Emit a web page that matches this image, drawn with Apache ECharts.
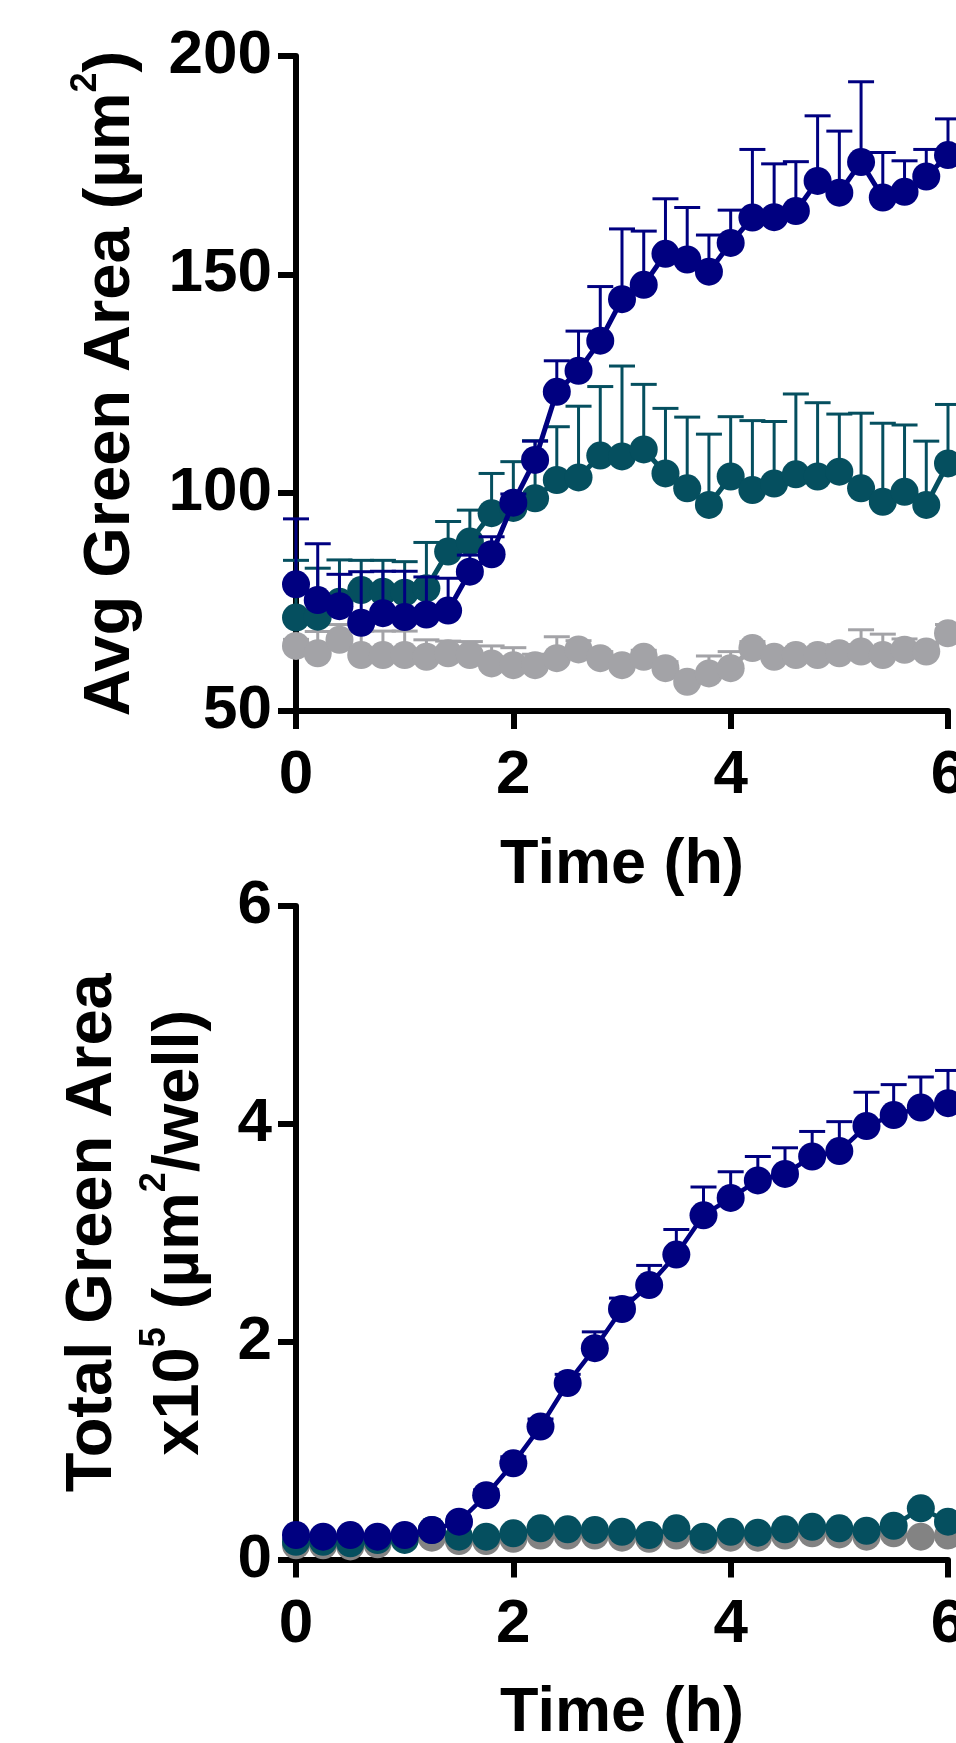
<!DOCTYPE html>
<html><head><meta charset="utf-8">
<script src="https://cdn.jsdelivr.net/npm/echarts@6/dist/echarts.min.js"></script>
<style>html,body{margin:0;padding:0;background:#fff}#c{width:956px;height:1743px}</style>
</head><body><div id="c"></div>
<script>
// ---- Top chart: Avg Green Area (µm²) ----
const timeAvg = [0,0.2,0.4,0.6,0.8,1.0,1.2,1.4,1.6,1.8,2.0,2.2,2.4,2.6,2.8,3.0,3.2,3.4,3.6,3.8,4.0,4.2,4.4,4.6,4.8,5.0,5.2,5.4,5.6,5.8,6.0];
const navyAvg = [79.0,75.4,74.0,70.2,72.4,71.5,72.1,73.0,81.9,85.9,97.7,107.5,123.1,127.9,134.8,144.3,147.6,154.7,153.4,150.6,157.2,163.0,163.1,164.5,171.4,168.7,175.7,167.6,168.9,172.4,177.3];
const navyAvgErr = [15.0,12.9,7.3,11.7,9.6,10.5,8.6,7.4,3.8,4.0,2.0,4.3,7.1,9.1,12.4,16.1,12.3,12.6,11.9,8.4,7.5,15.6,12.2,11.3,14.9,14.1,18.4,10.3,7.1,6.2,8.3];
const tealAvg = [71.4,71.6,75.0,77.7,77.3,77.1,78.1,86.5,88.8,95.3,96.5,98.7,102.9,103.5,108.5,108.3,109.9,104.4,101.0,97.2,103.7,100.6,102.1,104.2,103.7,104.8,101.0,97.9,100.2,97.2,106.7];
const tealAvgErr = [13.1,11.1,9.6,6.8,7.2,7.1,10.5,6.9,7.2,9.1,10.6,13.2,12.2,16.3,15.8,20.7,14.9,14.9,16.3,16.2,13.7,15.9,14.2,18.4,16.9,13.2,17.2,18.0,15.3,14.6,13.5];
const grayAvg = [64.9,63.2,66.3,62.8,62.8,62.8,62.4,63.2,62.8,60.9,60.5,60.5,62.1,64.1,62.1,60.5,62.4,59.8,56.7,58.6,59.8,64.4,62.4,62.8,62.8,63.2,63.6,62.8,64.0,63.6,67.8];
const grayAvgErr = [1.5,5.0,3.5,5.5,5.5,5.5,3.9,2.8,3.1,4.0,4.0,2.5,4.9,2.0,1.5,2.0,1.5,1.5,1.5,4.0,3.8,1.5,1.5,1.5,1.5,2.0,5.0,4.8,2.5,1.5,2.0];
const avgYTicks = {min: 50, max: 200, interval: 50};

// ---- Bottom chart: Total Green Area x10^5 (µm²/well) ----
const timeTotal = [0,0.25,0.5,0.75,1.0,1.25,1.5,1.75,2.0,2.25,2.5,2.75,3.0,3.25,3.5,3.75,4.0,4.25,4.5,4.75,5.0,5.25,5.5,5.75,6.0];
const navyTotal = [0.225,0.21,0.225,0.21,0.225,0.27,0.347,0.59,0.883,1.22,1.62,1.94,2.30,2.52,2.80,3.16,3.32,3.48,3.54,3.70,3.75,3.98,4.08,4.15,4.19];
const navyTotalErr = [0.02,0.02,0.02,0.02,0.02,0.03,0.04,0.05,0.06,0.07,0.08,0.15,0.10,0.18,0.23,0.26,0.24,0.22,0.24,0.23,0.27,0.31,0.28,0.28,0.30];
const tealTotal = [0.163,0.163,0.149,0.179,0.18,0.27,0.21,0.21,0.24,0.286,0.277,0.271,0.255,0.225,0.286,0.21,0.255,0.246,0.277,0.30,0.286,0.264,0.31,0.47,0.347];
const grayTotal = [0.13,0.13,0.12,0.14,0.19,0.20,0.17,0.17,0.19,0.22,0.22,0.22,0.20,0.19,0.22,0.18,0.20,0.20,0.22,0.24,0.23,0.21,0.24,0.21,0.22];
const totalYTicks = {min: 0, max: 6, interval: 2};
const xTicks = {min: 0, max: 6, interval: 2};

const NAVY = '#000080', TEAL = '#054f5f', GRAY_TOP = '#a3a3a7', GRAY_BOT = '#838383';
const FONT = '"Liberation Sans", Arial, Helvetica, sans-serif';

function errSeries(xs, ys, es, color, idx, z) {
  return {
    type: 'custom', xAxisIndex: idx, yAxisIndex: idx, z: z, clip: false, silent: true,
    data: xs.map((x, i) => [x, ys[i], es[i]]),
    renderItem: function (params, api) {
      const x = api.value(0), y = api.value(1), e = api.value(2);
      const p0 = api.coord([x, y]);
      const p1 = api.coord([x, y + e]);
      return {
        type: 'group',
        children: [
          {type: 'line', shape: {x1: p0[0], y1: p0[1], x2: p1[0], y2: p1[1]}, style: {stroke: color, lineWidth: 3}},
          {type: 'line', shape: {x1: p1[0] - 13, y1: p1[1], x2: p1[0] + 13, y2: p1[1]}, style: {stroke: color, lineWidth: 3}}
        ]
      };
    }
  };
}
function lineSeries(xs, ys, color, idx, z, lw) {
  return {
    type: 'line', xAxisIndex: idx, yAxisIndex: idx, z: z, clip: false, silent: true,
    data: xs.map((x, i) => [x, ys[i]]),
    symbol: 'circle', symbolSize: 28,
    itemStyle: {color: color},
    lineStyle: {color: color, width: lw}
  };
}

const axisLineStyle = {color: '#000', width: 6};
function xAxisDef(idx) {
  return {
    type: 'value', gridIndex: idx, min: xTicks.min, max: xTicks.max, interval: xTicks.interval,
    axisLine: {show: true, onZero: false, lineStyle: axisLineStyle},
    axisTick: {show: true, length: 18, lineStyle: {color: '#000', width: 6}},
    axisLabel: {show: true, margin: 34, color: '#000', fontSize: 62, fontWeight: 'bold', fontFamily: FONT, showMaxLabel: true, hideOverlap: false},
    splitLine: {show: false},
    name: 'Time (h)', nameLocation: 'middle', nameGap: 123,
    nameTextStyle: {color: '#000', fontSize: 63, fontWeight: 'bold', fontFamily: FONT}
  };
}
const richName = {
  m: {fontSize: 65, fontWeight: 'bold', fontFamily: FONT, color: '#000', lineHeight: 87},
  s: {fontSize: 36, fontWeight: 'bold', fontFamily: FONT, color: '#000', lineHeight: 32, verticalAlign: 'top'}
};
function yAxisDef(idx, ticks, name, gap) {
  return {
    type: 'value', gridIndex: idx, min: ticks.min, max: ticks.max, interval: ticks.interval,
    axisLine: {show: true, onZero: false, lineStyle: axisLineStyle},
    axisTick: {show: true, length: 18, lineStyle: {color: '#000', width: 6}},
    axisLabel: {show: true, margin: 24, color: '#000', fontSize: 62, fontWeight: 'bold', fontFamily: FONT},
    splitLine: {show: false},
    name: name, nameLocation: 'middle', nameGap: gap, nameRotate: 90,
    nameTextStyle: {color: '#000', fontFamily: FONT, rich: richName}
  };
}

const chart = echarts.init(document.getElementById('c'), null, {renderer: 'canvas'});
chart.setOption({
  animation: false,
  backgroundColor: '#fff',
  grid: [
    {left: 296, top: 56, width: 652, height: 655, containLabel: false, outerBoundsMode: 'none'},
    {left: 296, top: 906, width: 652, height: 653.5, containLabel: false, outerBoundsMode: 'none'}
  ],
  xAxis: [xAxisDef(0), xAxisDef(1)],
  yAxis: [
    yAxisDef(0, avgYTicks, '{m|Avg Green Area (µm}{s|2}{m|)}', 141),
    yAxisDef(1, totalYTicks, '{m|Total Green Area}\n{m|x10}{s|5}{m| (µm}{s|2}{m|/well)}', 72)
  ],
  series: [
    errSeries(timeAvg, grayAvg, grayAvgErr, GRAY_TOP, 0, 2),
    lineSeries(timeAvg, grayAvg, GRAY_TOP, 0, 2, 5),
    errSeries(timeAvg, tealAvg, tealAvgErr, TEAL, 0, 3),
    lineSeries(timeAvg, tealAvg, TEAL, 0, 3, 5),
    errSeries(timeAvg, navyAvg, navyAvgErr, NAVY, 0, 4),
    lineSeries(timeAvg, navyAvg, NAVY, 0, 4, 5),

    lineSeries(timeTotal, grayTotal, GRAY_BOT, 1, 2, 4.5),
    lineSeries(timeTotal, tealTotal, TEAL, 1, 3, 4.5),
    errSeries(timeTotal, navyTotal, navyTotalErr, NAVY, 1, 4),
    lineSeries(timeTotal, navyTotal, NAVY, 1, 4, 4.5)
  ]
});
</script>
</body></html>
